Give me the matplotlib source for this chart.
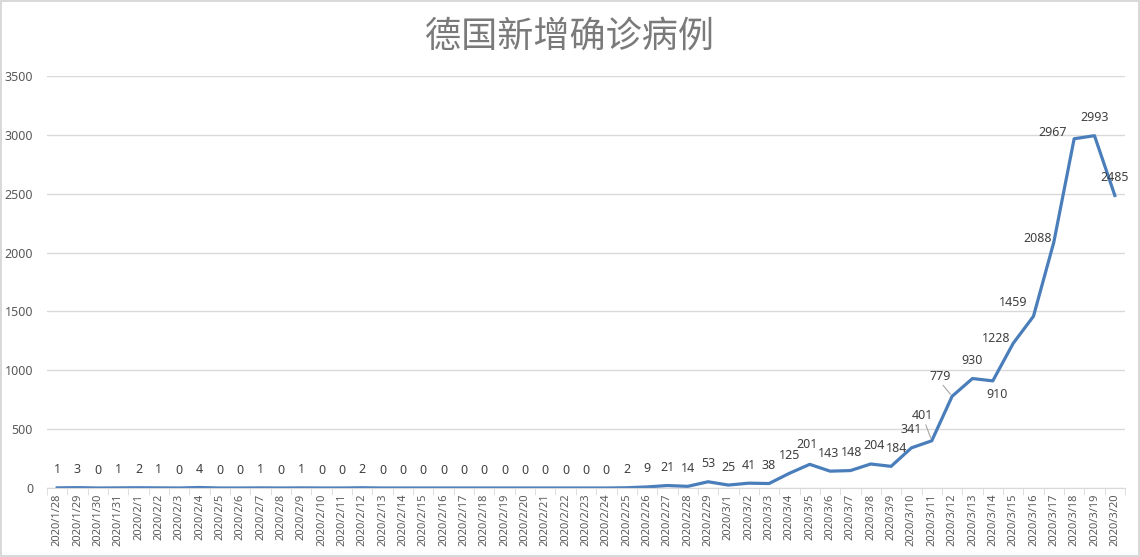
import matplotlib.pyplot as plt
from matplotlib.ticker import FixedLocator
import numpy as np

plt.rcParams['font.family'] = ['Noto Sans', 'Noto Sans CJK SC', 'DejaVu Sans']

title = "德国新增确诊病例"
dates = (["2020/1/%d" % d for d in range(28, 32)] +
         ["2020/2/%d" % d for d in range(1, 30)] +
         ["2020/3/%d" % d for d in range(1, 21)])
cases = [1, 3, 0, 1, 2, 1, 0, 4, 0, 0, 1, 0, 1, 0, 0, 2, 0, 0, 0, 0, 0, 0,
         0, 0, 0, 0, 0, 0, 2, 9, 21, 14, 53, 25, 41, 38, 125, 201, 143, 148,
         204, 184, 341, 401, 779, 930, 910, 1228, 1459, 2088, 2967, 2993, 2485]
y_ticks = [0, 500, 1000, 1500, 2000, 2500, 3000, 3500]

# label offsets in pixels where excel moved the label off the default spot
label_offsets = {
    37: (-3, 20),
    38: (-1, 18),
    39: (1, 18),
    40: (3, 18),
    41: (5, 18),
    43: (-9, 25),
    44: (-12, 20),
    46: (4, -14),
    47: (-17, 5),
    48: (-20, 14),
    49: (-16, 4),
    50: (-22, 6),
}
leader_lines = [43, 44]

grey = '#595959'
line_col = '#4a7ebb'

fig = plt.figure(figsize=(11.4, 5.57), dpi=100)
fig.patch.set_edgecolor('#d9d9d9')
fig.patch.set_linewidth(1.5)
ax = fig.add_axes([47 / 1140, 69 / 557, 1078 / 1140, 412 / 557])

x = np.arange(len(cases))
ax.plot(x, cases, color=line_col, lw=2.3, solid_joinstyle='round')

for i, v in enumerate(cases):
    dx, dy = label_offsets.get(i, (0, 18))
    ax.annotate(str(v), (i, v), xytext=(dx, dy), textcoords='offset pixels',
                ha='center', va='center', fontsize=9, color='#404040')
    if i in leader_lines:
        ax.annotate('', (i, v), xytext=(dx + 3, dy - 9), textcoords='offset pixels',
                    arrowprops=dict(arrowstyle='-', color='#a6a6a6', lw=0.8,
                                    shrinkA=0, shrinkB=2))

ax.set_xlim(-0.5, len(cases) - 0.5)
ax.set_ylim(0, 3500)
ax.set_yticks(y_ticks)
ax.grid(axis='y', color='#d9d9d9', lw=1)
ax.set_axisbelow(True)
for s in ['top', 'right', 'left']:
    ax.spines[s].set_visible(False)
ax.spines['bottom'].set_color('#d9d9d9')

ax.set_xticks(x)
ax.set_xticklabels(dates, rotation=90, fontsize=8, color=grey)
ax.xaxis.set_minor_locator(FixedLocator(np.arange(-0.5, len(cases), 1)))
ax.tick_params(axis='x', which='major', length=0, pad=4)
ax.tick_params(axis='x', which='minor', length=5, color='#d9d9d9')
ax.tick_params(axis='y', length=0, labelsize=9, labelcolor=grey, pad=10)

fig.text(0.5, 1 - 37 / 557, title, ha='center', va='center', fontsize=26,
         color='#7a7a7a', family=['Noto Sans CJK SC', 'DejaVu Sans'], weight='light')

fig.savefig('out.png', dpi=100, edgecolor=fig.get_edgecolor())
